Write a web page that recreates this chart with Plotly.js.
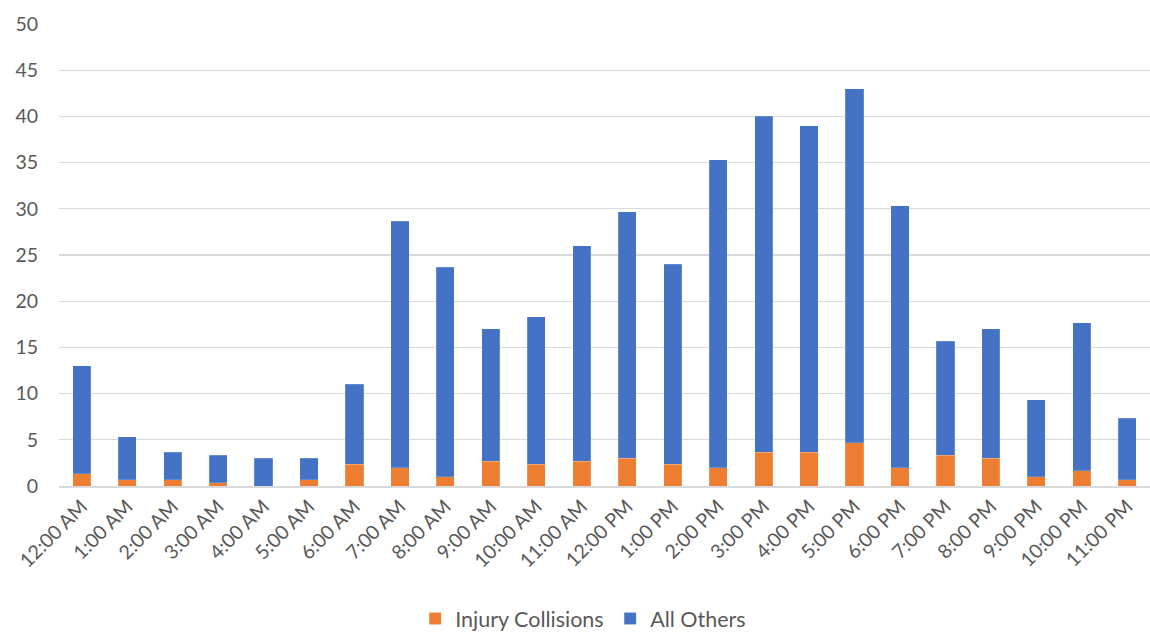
<!DOCTYPE html>
<html>
<head>
<meta charset="utf-8">
<script src="https://cdn.plot.ly/plotly-3.0.1.min.js"></script>
<style>
  html, body { margin: 0; padding: 0; background: #ffffff; }
  #chart { width: 1150px; height: 639px; }
</style>
</head>
<body>
<div id="chart"></div>
<script>
// Hour-of-day categories
const hours = [
  "12:00 AM", "1:00 AM", "2:00 AM", "3:00 AM", "4:00 AM", "5:00 AM",
  "6:00 AM", "7:00 AM", "8:00 AM", "9:00 AM", "10:00 AM", "11:00 AM",
  "12:00 PM", "1:00 PM", "2:00 PM", "3:00 PM", "4:00 PM", "5:00 PM",
  "6:00 PM", "7:00 PM", "8:00 PM", "9:00 PM", "10:00 PM", "11:00 PM"
];

// Collisions involving injury, per hour
const injuryCollisions = [
  1.33, 0.67, 0.67, 0.33, 0, 0.67,
  2.33, 2, 1, 2.67, 2.33, 2.67,
  3, 2.33, 2, 3.67, 3.67, 4.67,
  2, 3.33, 3, 1, 1.67, 0.67
];

// All other collisions, per hour
const allOthers = [
  11.67, 4.67, 3, 3, 3, 2.33,
  8.67, 26.67, 22.67, 14.33, 16, 23.33,
  26.67, 21.67, 33.33, 36.33, 35.33, 38.33,
  28.33, 12.33, 14, 8.33, 16, 6.67
];

const yTicks = [0, 5, 10, 15, 20, 25, 30, 35, 40, 45, 50];

const fontFamily = "Lato, 'Open Sans', sans-serif";
const textColor = "#595959";

const traces = [
  {
    type: "bar",
    name: "Injury Collisions",
    x: hours,
    y: injuryCollisions,
    marker: { color: "#ed7d31", line: { color: "rgba(255,255,255,0.35)", width: 0.5 } },
    hoverinfo: "x+y+name"
  },
  {
    type: "bar",
    name: "All Others",
    x: hours,
    y: allOthers,
    marker: { color: "#4472c4", line: { color: "rgba(255,255,255,0.35)", width: 0.5 } },
    hoverinfo: "x+y+name"
  }
];

const layout = {
  width: 1150,
  height: 639,
  barmode: "stack",
  bargap: 0.6,
  paper_bgcolor: "#ffffff",
  plot_bgcolor: "#ffffff",
  margin: { l: 59, r: 0, t: 24, b: 153 },
  font: { family: fontFamily, size: 19, color: textColor },
  xaxis: {
    type: "category",
    tickangle: -45,
    tickfont: { family: fontFamily, size: 19.5, color: textColor },
    showgrid: false,
    showline: true,
    linecolor: "#d9d9d9",
    linewidth: 1.5,
    ticks: "",
    automargin: false
  },
  yaxis: {
    range: [0, 50],
    tickvals: yTicks,
    ticktext: yTicks.map(String),
    tickfont: { family: fontFamily, size: 19.5, color: textColor },
    showgrid: true,
    gridcolor: "#d9d9d9",
    gridwidth: 1.3,
    zeroline: false,
    showline: false,
    ticks: "",
    ticklabelstandoff: 20,
    automargin: false
  },
  legend: {
    orientation: "h",
    xref: "container",
    yref: "container",
    x: 0.361,
    xanchor: "left",
    y: -0.028,
    yanchor: "bottom",
    font: { family: fontFamily, size: 21.5, color: textColor },
    traceorder: "normal",
    itemwidth: 30,
    entrywidth: 150
  },
  showlegend: true
};

Plotly.newPlot("chart", traces, layout, { displayModeBar: false, staticPlot: true });
</script>
</body>
</html>
